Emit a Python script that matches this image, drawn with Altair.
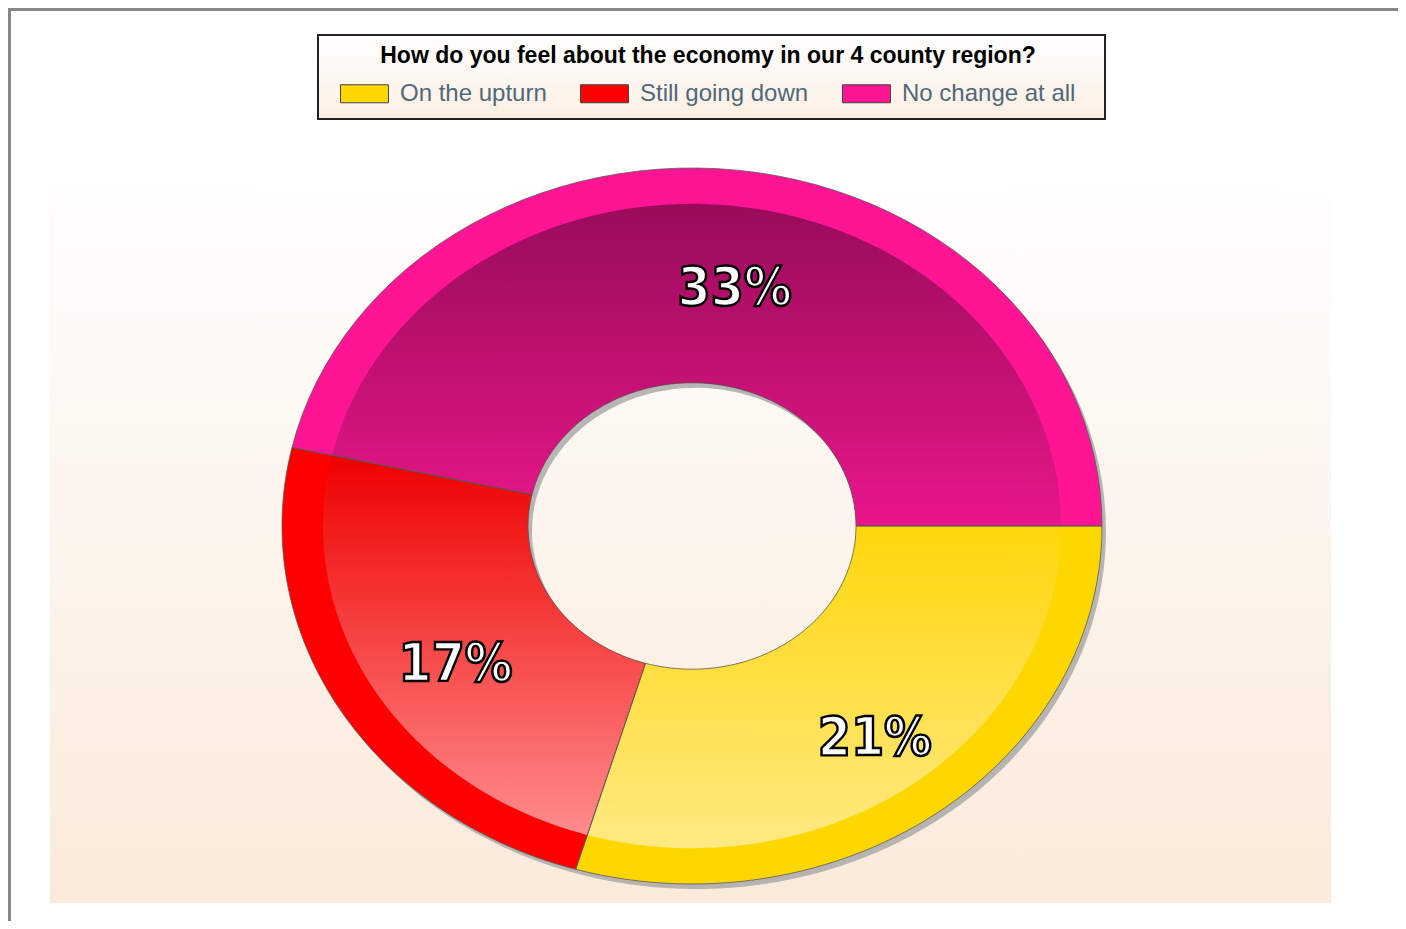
import altair as alt
import pandas as pd

# ---------------- data ----------------
title_text = "How do you feel about the economy in our 4 county region?"
categories = ["On the upturn", "Still going down", "No change at all"]
values = [21, 17, 33]
labels = ["21%", "17%", "33%"]

# ---------------- styles ----------------
rim_colors = ["#FFD700", "#FF0000", "#FF1493"]
face_top = ["#FFD60A", "#EE0000", "#990C5A"]
face_bottom = ["#FFE983", "#FF8C8C", "#E8168A"]

W, H = 1390, 913          # plot area (page minus margins)
CX, CY = 684, 518         # donut centre in plot pixels
RX, RY = 410, 358         # outer radii in pixels (ellipse)
R_OUT, R_FACE, R_IN, R_LABEL = 1.0, 0.9, 0.40, 0.70
N = 60                    # points per arc edge

df = pd.DataFrame({"category": categories, "value": values,
                   "label": labels, "ord": list(range(len(categories)))})

xs = alt.Scale(domain=[-CX / RX, (W - CX) / RX], nice=False, zero=False)
ys = alt.Scale(domain=[-(H - CY) / RY, CY / RY], nice=False, zero=False)


def angles(chart):
    return (chart.transform_joinaggregate(total="sum(value)")
            .transform_window(cum="sum(value)", sort=[alt.SortField("ord")], frame=[None, 0])
            .transform_calculate(a0="(datum.cum - datum.value) / datum.total * 2 * PI")
            .transform_calculate(a1="datum.cum / datum.total * 2 * PI"))


def ring(r_out, r_in):
    M = 2 * N + 3
    t = (f"datum.k <= {N} ? datum.a0 + (datum.a1 - datum.a0) * datum.k / {N} : "
         f"(datum.k <= {2 * N + 1} ? datum.a1 - (datum.a1 - datum.a0) * (datum.k - {N + 1}) / {N} : datum.a0)")
    r = f"(datum.k <= {N} || datum.k == {2 * N + 2}) ? {r_out} : {r_in}"
    return (angles(alt.Chart(df))
            .transform_calculate(k=f"sequence(0, {M})")
            .transform_flatten(["k"])
            .transform_calculate(t=t)
            .transform_calculate(r=r)
            .transform_calculate(px="datum.r * cos(datum.t)")
            .transform_calculate(py="-datum.r * sin(datum.t)"))


enc = dict(
    x=alt.X("px:Q", scale=xs, axis=None),
    y=alt.Y("py:Q", scale=ys, axis=None),
    order=alt.Order("k:Q"),
    detail="category:N",
)

one = pd.DataFrame({"_": [0]})

frame_left = alt.Chart(one).mark_rule(color="#888888", strokeWidth=3).encode(
    x=alt.value(1.5), y=alt.value(0), y2=alt.value(H))
frame_top = alt.Chart(one).mark_rule(color="#888888", strokeWidth=3).encode(
    x=alt.value(0), x2=alt.value(W), y=alt.value(1.5))

panel = alt.Chart(one).mark_rect(
    color=alt.LinearGradient(gradient="linear", x1=0, y1=0, x2=0, y2=1,
                             stops=[alt.GradientStop(offset=0, color="#FFFFFF"),
                                    alt.GradientStop(offset=1, color="#FAEADA")])
).encode(x=alt.value(42), x2=alt.value(1323), y=alt.value(147), y2=alt.value(895))

legend_box = alt.Chart(one).mark_rect(
    color=alt.LinearGradient(gradient="linear", x1=0, y1=0, x2=0, y2=1,
                             stops=[alt.GradientStop(offset=0, color="#FFFFFF"),
                                    alt.GradientStop(offset=1, color="#FCEFE2")]),
    stroke="#222222", strokeWidth=2
).encode(x=alt.value(310), x2=alt.value(1097), y=alt.value(27), y2=alt.value(111))

shadow = ring(R_OUT, R_IN).mark_line(filled=True, color="#a5a5a5", xOffset=4, yOffset=5,
                                     opacity=0.8).encode(**enc)

rim = ring(R_OUT, R_IN).mark_line(filled=True, strokeWidth=0).encode(
    color=alt.Color(
        "category:N",
        scale=alt.Scale(domain=categories, range=rim_colors),
        legend=alt.Legend(
            title=title_text, orient="none", legendX=332, legendY=37,
            direction="horizontal", columns=3, columnPadding=31, labelOffset=11,
            labelFontSize=24, labelFont="Liberation Sans", labelColor="#50687a", labelLimit=500,
            titleFontSize=23, titleFont="Liberation Sans", titleFontWeight="bold",
            titleColor="#000000", titleLimit=1000, titleAnchor="middle", titlePadding=1,
            symbolType="M-1,-0.375H1V0.375H-1Z", symbolSize=2304,
            symbolStrokeColor="#444444", symbolStrokeWidth=1, symbolOpacity=1,
            padding=0, zindex=1),
    ),
    **enc,
)

faces = []
for cat, c0, c1 in zip(categories, face_top, face_bottom):
    faces.append(
        ring(R_FACE, R_IN)
        .transform_filter(alt.datum.category == cat)
        .mark_line(filled=True, strokeWidth=0,
                   color=alt.LinearGradient(gradient="linear", x1=0, y1=0, x2=0, y2=1,
                                            stops=[alt.GradientStop(offset=0, color=c0),
                                                   alt.GradientStop(offset=1, color=c1)]))
        .encode(**enc)
    )

outline = ring(R_OUT, R_IN).mark_line(stroke="#555555", strokeWidth=0.9, opacity=0.85).encode(**enc)

text = (angles(alt.Chart(df))
        .transform_calculate(tm="(datum.a0 + datum.a1) / 2")
        .transform_calculate(px=f"{R_LABEL} * cos(datum.tm)")
        .transform_calculate(py=f"-{R_LABEL} * sin(datum.tm)")
        .mark_text(font="'Liberation Sans Narrow', 'DejaVu Sans Condensed', sans-serif",
                   fontWeight="bold", fontSize=53, fill="white", stroke="black",
                   strokeWidth=2.4, baseline="middle", align="center", dx=11, dy=12)
        .encode(x=alt.X("px:Q", scale=xs, axis=None),
                y=alt.Y("py:Q", scale=ys, axis=None),
                text="label:N"))

chart = alt.layer(
    frame_left, frame_top, panel, legend_box, shadow, rim, *faces, outline, text
).properties(
    width=W, height=H, autosize="none", padding=0
).configure_view(stroke=None).configure(font="Liberation Sans")

chart.save("out.html", embed_options={"renderer": "svg", "actions": False})
